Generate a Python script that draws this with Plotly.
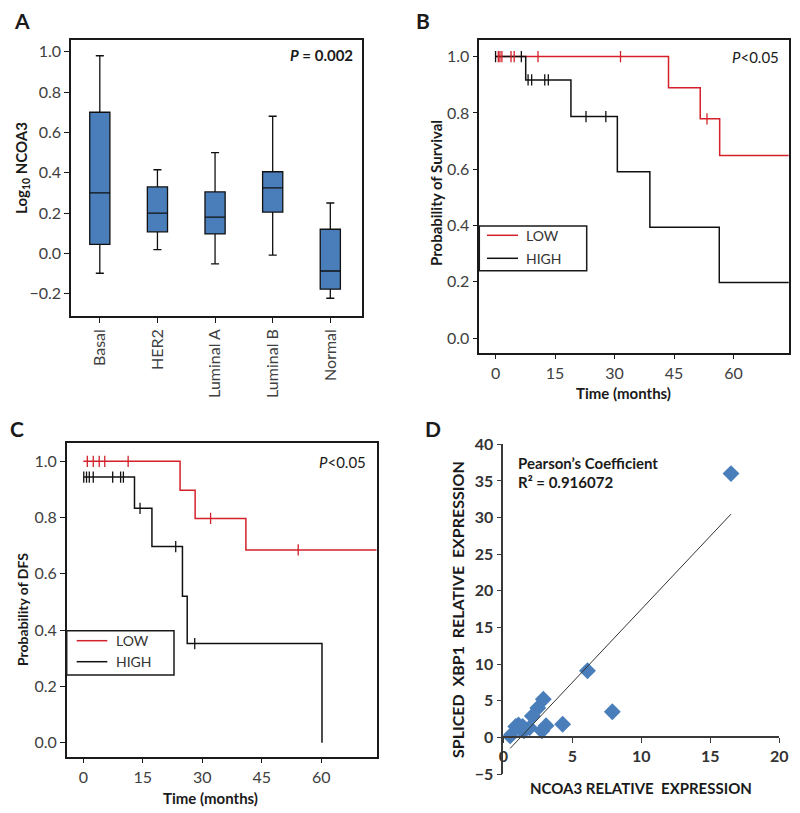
import numpy as np
import plotly.graph_objects as go

# ---------------- DATA ----------------
# Panel A: box plot statistics (log10 NCOA3)
subtypes = ["Basal", "HER2", "Luminal A", "Luminal B", "Normal"]
box_upper = [0.98, 0.415, 0.50, 0.68, 0.25]
box_q3 = [0.70, 0.33, 0.305, 0.405, 0.12]
box_median = [0.30, 0.20, 0.18, 0.325, -0.087]
box_q1 = [0.045, 0.107, 0.097, 0.205, -0.177]
box_lower = [-0.098, 0.019, -0.052, -0.008, -0.222]
a_yticks = [-0.2, 0.0, 0.2, 0.4, 0.6, 0.8, 1.0]

# Panel B: overall survival Kaplan-Meier
b_low_t = [0, 43.6, 51.6, 56.5, 74]
b_low_s = [1.0, 0.889, 0.779, 0.649, 0.649]
b_low_cens = [0.7, 1.1, 1.6, 3.9, 4.7, 10.7, 31.5, 53.3]
b_high_t = [0, 7.6, 19.0, 30.7, 38.9, 56.4, 74]
b_high_s = [1.0, 0.917, 0.787, 0.591, 0.394, 0.197, 0.197]
b_high_cens = [0.0, 6.5, 8.2, 9.1, 12.4, 13.3, 22.8, 27.8]

# Panel C: disease-free survival Kaplan-Meier
c_low_t = [0, 24.4, 28.2, 41.0, 74]
c_low_s = [1.0, 0.897, 0.797, 0.685, 0.685]
c_low_cens = [1.0, 2.5, 4.0, 5.4, 11.3, 32.1, 54.2]
c_high_t = [0, 12.9, 17.3, 25.0, 26.2, 60.2]
c_high_s = [0.944, 0.833, 0.697, 0.52, 0.352, 0.0]
c_high_cens = [0.1, 0.8, 1.5, 2.5, 7.4, 9.4, 10.1, 14.3, 23.3, 28.1]

km_xticks = [0, 15, 30, 45, 60]
km_yticks = [0.0, 0.2, 0.4, 0.6, 0.8, 1.0]
legend_labels = ["LOW", "HIGH"]

# Panel D: scatter NCOA3 vs spliced XBP1
ncoa3 = [0.5, 0.9, 1.1, 1.2, 1.4, 1.5, 1.9, 2.1, 2.5, 2.9, 2.8, 3.1, 4.3, 6.1, 7.9, 16.5]
xbp1 = [0.2, 1.5, 1.7, 1.2, 1.5, 0.9, 1.3, 2.9, 4.0, 5.2, 0.9, 1.6, 1.8, 9.1, 3.5, 36.0]

# ---------------- HELPERS ----------------
W, H = 800, 813
FONT = "Lato, 'Open Sans', sans-serif"
TICKC = "#404040"
RED = "#d3202a"
BLK = "#111111"
BLUE = "#4a7ebb"


def fx(p):
    return p / W


def fy(p):
    return 1 - p / H


def step_value(times, surv, t):
    idx = np.searchsorted(np.asarray(times), t, side="right") - 1
    return np.asarray(surv)[np.clip(idx, 0, len(surv) - 1)]


fig = go.Figure()

# ---------------- PANEL A ----------------
fig.add_trace(go.Box(
    x=subtypes, q1=box_q1, median=box_median, q3=box_q3,
    lowerfence=box_lower, upperfence=box_upper,
    fillcolor=BLUE, line=dict(color=BLK, width=1.3),
    width=0.35, whiskerwidth=0.4, boxpoints=False, showlegend=False,
    xaxis="x", yaxis="y", hoverinfo="skip",
))

# ---------------- PANEL B & C (KM) ----------------
def km_line(t, s, color, xa, ya):
    fig.add_trace(go.Scatter(
        x=t, y=s, mode="lines", line=dict(color=color, width=1.5, shape="hv"),
        xaxis=xa, yaxis=ya, showlegend=False, hoverinfo="skip",
    ))


def km_cens(t, s, cens, color, xa, ya):
    fig.add_trace(go.Scatter(
        x=cens, y=step_value(t, s, np.asarray(cens)), mode="markers",
        marker=dict(symbol="line-ns", size=8, line=dict(color=color, width=1.3)),
        xaxis=xa, yaxis=ya, showlegend=False, hoverinfo="skip",
    ))


km_line(b_low_t, b_low_s, RED, "x2", "y2")
km_line(b_high_t, b_high_s, BLK, "x2", "y2")
km_cens(b_low_t, b_low_s, b_low_cens, RED, "x2", "y2")
km_cens(b_high_t, b_high_s, b_high_cens, BLK, "x2", "y2")

km_line(c_low_t, c_low_s, RED, "x3", "y3")
km_line(c_high_t, c_high_s, BLK, "x3", "y3")
km_cens(c_low_t, c_low_s, c_low_cens, RED, "x3", "y3")
km_cens(c_high_t, c_high_s, c_high_cens, BLK, "x3", "y3")

# ---------------- PANEL D ----------------
fig.add_trace(go.Scatter(
    x=ncoa3, y=xbp1, mode="markers",
    marker=dict(symbol="diamond", size=13, color=BLUE),
    xaxis="x4", yaxis="y4", showlegend=False,
))
slope, intercept = np.polyfit(ncoa3, xbp1, 1)
fit_x = np.array([min(ncoa3), max(ncoa3)])
fig.add_trace(go.Scatter(
    x=fit_x, y=slope * fit_x + intercept, mode="lines",
    line=dict(color="#333333", width=1), xaxis="x4", yaxis="y4",
    showlegend=False, hoverinfo="skip",
))

# ---------------- LAYOUT ----------------
frame = dict(showline=True, linecolor="#1a1a1a", linewidth=1.5, mirror=True,
             showgrid=False, zeroline=False, ticks="outside", ticklen=5,
             tickcolor="#1a1a1a", automargin=False,
             tickfont=dict(family=FONT, size=16, color=TICKC))

a_dom_y = [fy(316), fy(40)]
b_dom_y = [fy(352.7), fy(40)]
c_dom_y = [fy(756.7), fy(443.3)]
d_dom_y = [fy(774), fy(444.3)]
d_yrange = [-5, 40]
d_xaxis_pos = d_dom_y[0] + (0 - d_yrange[0]) / (d_yrange[1] - d_yrange[0]) * (d_dom_y[1] - d_dom_y[0])

dfont = dict(family=FONT, size=16, color="#333333", weight="bold")

fig.update_layout(
    width=W, height=H, margin=dict(l=0, r=0, t=0, b=0, autoexpand=False),
    paper_bgcolor="white", plot_bgcolor="white", showlegend=False,
    font=dict(family=FONT, color=TICKC),
    xaxis=dict(frame, domain=[fx(71), fx(362)], range=[-0.5, 4.55],
               tickangle=-90, anchor="y"),
    yaxis=dict(frame, domain=a_dom_y, range=[-0.31, 1.058], tickvals=a_yticks,
               tickformat=".1f", anchor="x"),
    xaxis2=dict(frame, domain=[fx(479.3), fx(788.7)], range=[-4.1, 73.9],
                tickvals=km_xticks, anchor="y2"),
    yaxis2=dict(frame, domain=b_dom_y, range=[-0.052, 1.059], tickvals=km_yticks,
                tickformat=".1f", anchor="x2"),
    xaxis3=dict(frame, domain=[fx(66.7), fx(376.7)], range=[-4.2, 74.0],
                tickvals=km_xticks, anchor="y3"),
    yaxis3=dict(frame, domain=c_dom_y, range=[-0.05, 1.064], tickvals=km_yticks,
                tickformat=".1f", anchor="x3"),
    xaxis4=dict(domain=[fx(503.3), fx(779.3)], range=[0, 20], dtick=5,
                anchor="free", position=d_xaxis_pos, showline=True,
                linecolor="#3a3a3a", linewidth=1.5, ticks="outside", ticklen=5,
                tickcolor="#3a3a3a", showgrid=False, zeroline=False, tickfont=dfont,
                automargin=False),
    yaxis4=dict(domain=d_dom_y, range=d_yrange, dtick=5, anchor="x4",
                showline=True, linecolor="#3a3a3a", linewidth=1.5, ticks="outside",
                ticklen=5, tickcolor="#3a3a3a", showgrid=False, zeroline=False,
                tickfont=dfont, automargin=False),
)

ann = []
shapes = []


def add_text(text, x, y, size=14, xanchor="center", yanchor="middle", angle=0,
             color="#1a1a1a"):
    ann.append(dict(text=text, x=fx(x), y=fy(y), xref="paper", yref="paper",
                    showarrow=False, xanchor=xanchor, yanchor=yanchor,
                    textangle=angle, font=dict(family=FONT, size=size, color=color)))


def add_legend(x0, x1, y0, y1, lx0, lx1, tx, ys):
    shapes.append(dict(type="rect", xref="paper", yref="paper",
                       x0=fx(x0), x1=fx(x1), y0=fy(y1), y1=fy(y0),
                       line=dict(color="#1a1a1a", width=1.5), fillcolor="white",
                       layer="above"))
    for lab, col, yy in zip(legend_labels, [RED, BLK], ys):
        shapes.append(dict(type="line", xref="paper", yref="paper",
                           x0=fx(lx0), x1=fx(lx1), y0=fy(yy), y1=fy(yy),
                           line=dict(color=col, width=1.5), layer="above"))
        add_text(lab, tx, yy, size=14, xanchor="left", color="#333333")


# panel letters
add_text("<b>A</b>", 22, 20, size=21)
add_text("<b>B</b>", 423, 20, size=21)
add_text("<b>C</b>", 17, 429, size=21)
add_text("<b>D</b>", 433, 429, size=21)

# p values
add_text("<b><i>P</i> = 0.002</b>", 355, 55, size=15, xanchor="right")
add_text("<i>P</i>&lt;0.05", 781, 57, size=15, xanchor="right")
add_text("<i>P</i>&lt;0.05", 368, 462, size=15, xanchor="right")

# axis titles
add_text("<b>Log<sub>10</sub> NCOA3</b>", 22, 168, size=15, angle=-90)
add_text("<b>Probability of Survival</b>", 436, 193, size=15, angle=-90)
add_text("<b>Time (months)</b>", 623, 393, size=15)
add_text("<b>Probability of DFS</b>", 22, 610, size=14, angle=-90)
add_text("<b>Time (months)</b>", 210, 798, size=15)
add_text("<b>SPLICED  XBP1  RELATIVE  EXPRESSION</b>", 457, 610, size=16, angle=-90)
add_text("<b>NCOA3 RELATIVE  EXPRESSION</b>", 641, 788, size=15)

# pearson
add_text("<b>Pearson’s Coefficient</b>", 516, 463, size=15, xanchor="left")
add_text("<b>R² = 0.916072</b>", 516, 482, size=15, xanchor="left")

# legends
add_legend(479.3, 586.7, 226, 270.7, 487, 518, 524, [235.3, 258.3])
add_legend(66.7, 174, 630.7, 675, 76.7, 107.3, 114.3, [640.7, 661.7])

fig.update_layout(annotations=ann, shapes=shapes)

fig.write_html("out.html", config={"displayModeBar": False},
               post_script="document.body.style.margin='0';")
